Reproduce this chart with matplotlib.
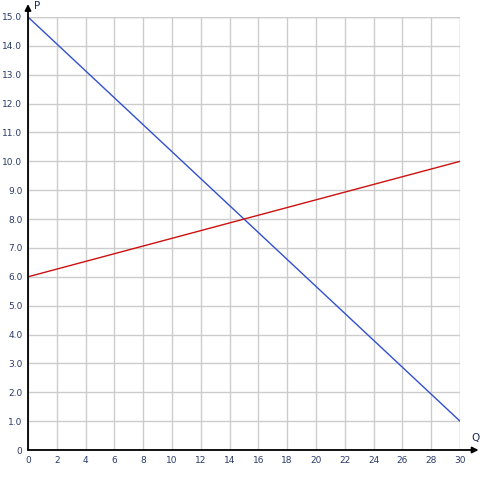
import matplotlib.pyplot as plt
import numpy as np

# demand (blue) and supply (red) lines, endpoints
q_points = [0, 30]
demand_p = [15, 1]
supply_p = [6, 10]

x_ticks = list(range(0, 31, 2))
y_ticks = list(range(0, 16))
y_tick_labels = ["0"] + [f"{v:.1f}" for v in y_ticks[1:]]

label_color = "#2a3a6a"

fig = plt.figure(figsize=(4.82, 4.84), dpi=100)
ax = fig.add_axes([28 / 482, 34 / 484, 432 / 482, 433 / 484])

ax.plot(q_points, demand_p, color="#3050d0", lw=1.0, zorder=3)
ax.plot(q_points, supply_p, color="#cc1010", lw=1.0, zorder=3)

ax.set_xlim(0, 30)
ax.set_ylim(0, 15)
ax.set_xticks(x_ticks)
ax.set_yticks(y_ticks)
ax.set_yticklabels(y_tick_labels)
ax.tick_params(length=0, labelsize=6.5, labelcolor=label_color, pad=4)
ax.grid(True, color="#cccccc", lw=1.0, zorder=0)
ax.set_axisbelow(True)

for s in ["top", "right"]:
    ax.spines[s].set_visible(False)
# grid border on right/top
ax.axvline(30, color="#cccccc", lw=1.0, zorder=0)
ax.axhline(15, color="#cccccc", lw=1.0, zorder=0)
ax.spines["left"].set_visible(False)
ax.spines["bottom"].set_visible(False)

# axis arrows
ax.annotate("", xy=(0, 1.03), xytext=(0, 0), xycoords="axes fraction",
            arrowprops=dict(arrowstyle="-|>", color="black", lw=1.3,
                            mutation_scale=9, shrinkA=0, shrinkB=0),
            annotation_clip=False)
ax.annotate("", xy=(1.043, 0), xytext=(0, 0), xycoords="axes fraction",
            arrowprops=dict(arrowstyle="-|>", color="black", lw=1.3,
                            mutation_scale=9, shrinkA=0, shrinkB=0),
            annotation_clip=False)
fig.text(34 / 482, 1 - 6 / 484, "P", fontsize=7.5, color="#1a2a5a", va="center")
fig.text(471 / 482, 1 - 438 / 484, "Q", fontsize=7.5, color="#1a2a5a", va="center")

fig.savefig("out.png", dpi=100)
